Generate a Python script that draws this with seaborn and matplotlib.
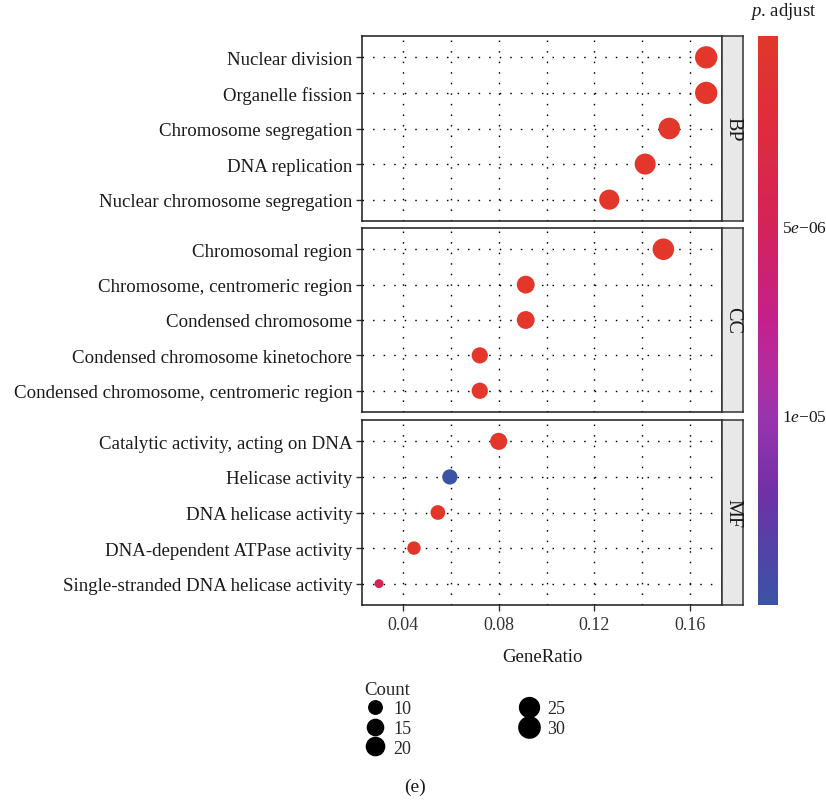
import numpy as np
import pandas as pd
import matplotlib
matplotlib.use('Agg')
import matplotlib.pyplot as plt
import seaborn as sns
from matplotlib.colors import LinearSegmentedColormap, Normalize
from matplotlib.cm import ScalarMappable
from matplotlib.lines import Line2D

# ==========================================
# DATA
# ==========================================
bp_terms = ['Nuclear division', 'Organelle fission', 'Chromosome segregation',
            'DNA replication', 'Nuclear chromosome segregation']
bp_ratio = [0.1667, 0.1667, 0.1513, 0.1412, 0.1262]
bp_count = [34, 34, 31, 29, 26]
bp_padj = [2.0e-11, 2.0e-11, 5.0e-10, 1.0e-09, 3.0e-09]

cc_terms = ['Chromosomal region', 'Chromosome, centromeric region', 'Condensed chromosome',
            'Condensed chromosome kinetochore', 'Condensed chromosome, centromeric region']
cc_ratio = [0.1488, 0.0913, 0.0913, 0.0721, 0.0721]
cc_count = [31, 19, 19, 15, 15]
cc_padj = [1.0e-10, 2.0e-09, 2.0e-09, 1.0e-08, 1.0e-08]

mf_terms = ['Catalytic activity, acting on DNA', 'Helicase activity', 'DNA helicase activity',
            'DNA-dependent ATPase activity', 'Single-stranded DNA helicase activity']
mf_ratio = [0.0800, 0.0596, 0.0546, 0.0446, 0.0300]
mf_count = [17, 13, 12, 10, 7]
mf_padj = [5.0e-08, 1.5e-05, 1.5e-07, 2.0e-07, 4.5e-06]

groups = ['BP', 'CC', 'MF']
legend_counts = [10, 15, 20, 25, 30]
cbar_ticks = [5e-06, 1e-05]
cbar_labels = [r'5$\mathit{e}$−06', r'1$\mathit{e}$−05']
x_ticks = [0.04, 0.08, 0.12, 0.16]

df = pd.DataFrame({
    'Description': bp_terms + cc_terms + mf_terms,
    'GeneRatio': bp_ratio + cc_ratio + mf_ratio,
    'Count': bp_count + cc_count + mf_count,
    'p.adjust': bp_padj + cc_padj + mf_padj,
    'ONTOLOGY': ['BP'] * 5 + ['CC'] * 5 + ['MF'] * 5,
})

# ==========================================
# STYLE
# ==========================================
sns.set_theme(style='white')
plt.rcParams['font.family'] = ['Liberation Serif', 'DejaVu Serif']
plt.rcParams['mathtext.fontset'] = 'custom'
plt.rcParams['mathtext.rm'] = 'Liberation Serif'
plt.rcParams['mathtext.it'] = 'Liberation Serif:italic'

cmap = LinearSegmentedColormap.from_list('padj', [
    (0.00, '#E2372A'), (0.15, '#DF2C3C'), (0.33, '#D42358'), (0.50, '#C4208C'),
    (0.58, '#B62A9E'), (0.67, '#9A34AE'), (0.80, '#7230A6'), (0.90, '#5442A6'),
    (1.00, '#3A53A5')])
vmin, vmax = 0.0, df['p.adjust'].max()
norm = Normalize(vmin, vmax)

# ggplot-like area scale: diameter (px) from 9 to 22.3
cmin, cmax = df['Count'].min(), df['Count'].max()
def count_to_area(c):
    d_px = 9 + 13.3 * np.sqrt((c - cmin) / (cmax - cmin))
    return (d_px * 0.72) ** 2

size_map = {c: count_to_area(c) for c in sorted(df['Count'].unique())}

W, H = 826, 803
fig = plt.figure(figsize=(W / 100, H / 100), dpi=100)

def fx(px):
    return px / W

def fy(px):
    return 1 - px / H

panel_px = {'BP': (37, 222), 'CC': (229, 413), 'MF': (421, 606)}
left, right = 362, 722
strip_right = 743
grid_style = dict(color='black', linewidth=1.0, linestyle=(0, (1.1, 6.5)), zorder=0)

for g in groups:
    top, bot = panel_px[g]
    ax = fig.add_axes([fx(left), fy(bot), fx(right - left), (bot - top) / H])
    sub = df[df['ONTOLOGY'] == g]
    sns.scatterplot(data=sub, x='GeneRatio', y='Description', hue='p.adjust',
                    palette=cmap, hue_norm=norm, size='Count', sizes=size_map,
                    linewidth=0, legend=False, ax=ax, zorder=3)
    ax.set_xlim(0.0229, 0.1733)
    ax.set_ylim(len(sub) - 0.4, -0.6)
    for xv in np.arange(0.04, 0.17, 0.02):
        ax.axvline(xv, **grid_style)
    for yv in range(len(sub)):
        ax.axhline(yv, **grid_style)
    ax.set_xlabel('')
    ax.set_ylabel('')
    ax.set_xticks(x_ticks)
    ax.tick_params(axis='y', left=True, length=4, width=1.0, color='#333333',
                   labelsize=13.6, labelcolor='#1A1A1A', pad=3)
    if g == 'MF':
        ax.set_xticklabels([f'{v:.2f}' for v in x_ticks])
        ax.tick_params(axis='x', bottom=True, length=4, width=1.0, color='#333333',
                       labelsize=13, labelcolor='#333333', pad=4)
    else:
        ax.tick_params(axis='x', bottom=False, labelbottom=False)
    for s in ax.spines.values():
        s.set_color('#1A1A1A')
        s.set_linewidth(1.1)

    # facet strip
    sax = fig.add_axes([fx(right), fy(bot), fx(strip_right - right), (bot - top) / H])
    sax.set_facecolor('#E8E8E8')
    sax.set_xticks([])
    sax.set_yticks([])
    for s in sax.spines.values():
        s.set_color('#333333')
        s.set_linewidth(1.1)
    sax.text(0.5, 0.5, g, rotation=270, ha='center', va='center',
             fontsize=14.5, color='#1A1A1A', transform=sax.transAxes)

fig.text(fx(542), fy(658), 'GeneRatio', ha='center', va='center', fontsize=13.5, color='#1A1A1A')

# colorbar for p.adjust
cax = fig.add_axes([fx(758), fy(606), fx(20), (606 - 37) / H])
sm = ScalarMappable(norm=norm, cmap=cmap)
cb = fig.colorbar(sm, cax=cax)
cb.outline.set_visible(False)
cax.invert_yaxis()
cb.set_ticks(cbar_ticks)
cb.set_ticklabels(cbar_labels)
cax.tick_params(length=0, labelsize=12.5, pad=3, labelcolor='#1A1A1A')
fig.text(fx(750), fy(12), r'$\mathit{p}$. adjust', ha='left', va='center',
         fontsize=13.5, color='#1A1A1A')

# size legend
handles = [Line2D([], [], marker='o', linestyle='', color='black',
                  markersize=np.sqrt(count_to_area(c))) for c in legend_counts]
leg = fig.legend(handles, [str(c) for c in legend_counts], ncol=2, title='Count',
                 loc='upper left', bbox_to_anchor=(fx(352), fy(669)), frameon=False,
                 fontsize=13, title_fontsize=13.5, alignment='left',
                 handletextpad=0.4, labelspacing=0.15, columnspacing=5.9,
                 handlelength=1.2, borderpad=0.2)

fig.text(fx(415), fy(787), '(e)', ha='center', va='center', fontsize=14, color='#1A1A1A')

fig.savefig('out.png', dpi=100)
